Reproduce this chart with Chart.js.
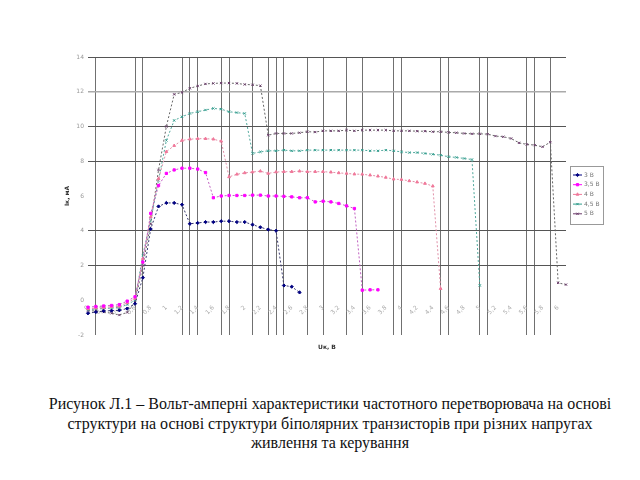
<!DOCTYPE html>
<html lang="uk">
<head>
  <meta charset="UTF-8" />
  <title>Рисунок Л.1</title>
  <script src="https://cdn.jsdelivr.net/npm/chart.js"></script>
  <style>
    body {
      margin: 0;
      background: #ffffff;
      width: 640px;
      height: 480px;
      overflow: hidden;
    }
    .wrap {
      position: relative;
      width: 640px;
      height: 370px;
    }
    .caption {
      margin-top: 24px;
      padding-left: 20px;
      font-family: 'Liberation Serif', 'Times New Roman', serif;
      font-size: 16px;
      line-height: 19.5px;
      text-align: center;
      color: #111;
    }
  </style>
</head>
<body>
  <div class="wrap">
    <canvas id="grafik" width="640" height="370"></canvas>
  </div>
  <div class="caption">
    Рисунок Л.1 – Вольт-амперні характеристики частотного перетворювача на основі<br>
    структури на основі структури біполярних транзисторів при різних напругах<br>
    живлення та керування
  </div>

  <script>
    // Напруга, В (категорії осі X)
    const napruga = [
      '0', '0,1', '0,2', '0,3', '0,4', '0,5', '0,6', '0,7', '0,8', '0,9',
      '1', '1,1', '1,2', '1,3', '1,4', '1,5', '1,6', '1,7', '1,8', '1,9',
      '2', '2,1', '2,2', '2,3', '2,4', '2,5', '2,6', '2,7', '2,8', '2,9',
      '3', '3,1', '3,2', '3,3', '3,4', '3,5', '3,6', '3,7', '3,8', '3,9',
      '4', '4,1', '4,2', '4,3', '4,4', '4,5', '4,6', '4,7', '4,8', '4,9',
      '5', '5,1', '5,2', '5,3', '5,4', '5,5', '5,6', '5,7', '5,8', '5,9',
      '6', '6,1'
    ];

    const yTicks = [-2, 0, 2, 4, 6, 8, 10, 12, 14];

    // Струм, мА
    const i3V = [-0.75, -0.68, -0.62, -0.6, -0.58, -0.48, -0.2, 1.3, 4.1, 5.4,
      5.6, 5.6, 5.5, 4.4, 4.45, 4.5, 4.5, 4.55, 4.55, 4.5,
      4.5, 4.35, 4.2, 4.07, 4.0, 0.85, 0.78, 0.45];

    const i35V = [-0.4, -0.36, -0.33, -0.3, -0.25, -0.05, 0.2, 2.2, 5.0, 6.6,
      7.3, 7.5, 7.6, 7.6, 7.55, 7.35, 5.9, 6.0, 6.03, 6.03,
      6.03, 6.05, 6.05, 6.0, 6.0, 5.98, 5.95, 5.9, 5.9, 5.66,
      5.7, 5.66, 5.57, 5.43, 5.28, 0.58, 0.6, 0.6];

    const i4V = [-0.5, -0.45, -0.42, -0.38, -0.35, -0.15, 0.1, 2.4, 4.8, 7.0,
      8.55, 8.9, 9.2, 9.27, 9.3, 9.3, 9.27, 9.15, 7.1, 7.25,
      7.33, 7.38, 7.43, 7.3, 7.38, 7.4, 7.4, 7.43, 7.4, 7.4,
      7.4, 7.37, 7.33, 7.3, 7.26, 7.25, 7.2, 7.14, 7.07, 6.97,
      6.95, 6.87, 6.8, 6.72, 6.57, 0.67];

    const i45V = [-0.55, -0.5, -0.48, -0.45, -0.42, -0.25, 0.0, 2.6, 4.6, 6.9,
      9.2, 10.35, 10.56, 10.75, 10.85, 10.95, 11.04, 11.0, 10.85, 10.8,
      10.75, 8.45, 8.54, 8.6, 8.6, 8.64, 8.6, 8.6, 8.64, 8.64,
      8.64, 8.64, 8.64, 8.64, 8.64, 8.64, 8.6, 8.6, 8.64, 8.6,
      8.54, 8.5, 8.5, 8.45, 8.4, 8.35, 8.26, 8.22, 8.16, 8.1,
      0.85];

    const i5V = [-0.6, -0.62, -0.68, -0.75, -0.85, -0.7, -0.1, 2.0, 4.4, 7.5,
      10.0, 11.85, 11.96, 12.2, 12.33, 12.45, 12.48, 12.5, 12.5, 12.48,
      12.42, 12.4, 12.35, 9.5, 9.6, 9.6, 9.6, 9.64, 9.7, 9.68,
      9.75, 9.75, 9.75, 9.79, 9.75, 9.79, 9.79, 9.79, 9.79, 9.75,
      9.75, 9.75, 9.73, 9.73, 9.7, 9.7, 9.66, 9.64, 9.6, 9.58,
      9.58, 9.56, 9.45, 9.41, 9.31, 9.06, 8.97, 8.93, 8.83, 9.1,
      1.0, 0.9];

    const seriesNames = ['3 В', '3,5 В', '4 В', '4,5 В', '5 В'];

    // які вертикальні лінії сітки видно на рисунку
    const xGridShown = [1, 6, 7, 12, 13, 14, 17, 18, 21, 23, 24, 25, 28, 30, 33, 35, 39, 40, 45, 46, 50, 51, 56, 57, 59];
    const yGridHidden = [6, 0, -2];

    function seria(label, data, color, lineColor, style) {
      return {
        label: label,
        data: data,
        borderColor: lineColor,
        backgroundColor: color,
        pointBorderColor: color,
        pointBackgroundColor: color,
        pointStyle: style,
        pointRadius: 1.6,
        pointBorderWidth: 1,
        borderWidth: 1,
        borderDash: [2, 2],
        tension: 0,
        fill: false
      };
    }

    const datasets = [
      seria(seriesNames[0], i3V, '#000080', '#3a3a70', 'rectRot'),
      seria(seriesNames[1], i35V, '#ff00ff', '#c060c0', 'rect'),
      seria(seriesNames[2], i4V, '#f0789a', '#e090a8', 'triangle'),
      seria(seriesNames[3], i45V, '#2f9c8c', '#50a89c', 'crossRot'),
      seria(seriesNames[4], i5V, '#6a3a6a', '#666666', 'crossRot')
    ];

    // підписи осей і легенда в рамці, як в Excel
    const extras = {
      id: 'extras',
      afterDraw(chart) {
        const ctx = chart.ctx;
        ctx.save();
        ctx.fillStyle = '#333';
        ctx.font = 'bold 6px "DejaVu Sans"';
        ctx.textAlign = 'center';
        ctx.textBaseline = 'middle';
        ctx.fillText('Uк, В', 327, 347);
        ctx.translate(67, 196);
        ctx.rotate(-Math.PI / 2);
        ctx.fillText('Iк, мА', 0, 0);
        ctx.restore();

        ctx.save();
        ctx.strokeStyle = '#999';
        ctx.lineWidth = 1;
        ctx.strokeRect(570.5, 166.5, 33, 58);
        ctx.font = '6px "DejaVu Sans"';
        ctx.textBaseline = 'middle';
        ctx.textAlign = 'left';
        chart.data.datasets.forEach((ds, k) => {
          const y = 175 + k * 9.7;
          ctx.strokeStyle = ds.pointBorderColor;
          ctx.fillStyle = ds.pointBorderColor;
          ctx.setLineDash([]);
          ctx.beginPath();
          ctx.moveTo(573, y);
          ctx.lineTo(582, y);
          ctx.stroke();
          Chart.helpers.drawPoint(ctx, {
            pointStyle: ds.pointStyle,
            radius: 1.6,
            borderWidth: 1,
            rotation: 0
          }, 577.5, y);
          ctx.fillStyle = '#777';
          ctx.fillText(ds.label, 584, y);
        });
        ctx.restore();
      }
    };

    new Chart(document.getElementById('grafik'), {
      type: 'line',
      data: { labels: napruga, datasets: datasets },
      options: {
        responsive: false,
        animation: false,
        layout: { padding: { left: 60, right: 74, top: 57, bottom: 35 } },
        plugins: {
          legend: { display: false },
          tooltip: { enabled: false }
        },
        scales: {
          x: {
            type: 'category',
            position: { y: 0 },
            offset: false,
            afterFit: (s) => { s.height = 0; },
            border: { display: false },
            grid: {
              drawTicks: false,
              lineWidth: 1,
              color: (c) => xGridShown.includes(c.index) ? '#707070' : 'rgba(0,0,0,0)'
            },
            ticks: {
              autoSkip: false,
              minRotation: 45,
              maxRotation: 45,
              padding: 4,
              color: '#aaa',
              font: { size: 6, family: 'DejaVu Sans' },
              callback: (v, i) => i % 2 === 0 ? napruga[i] : ''
            }
          },
          y: {
            min: yTicks[0],
            max: yTicks[yTicks.length - 1],
            afterFit: (s) => { s.width = 28; },
            border: { display: false },
            grid: {
              drawTicks: false,
              lineWidth: (c) => c.tick && c.tick.value === 12 ? 1.5 : 1,
              color: (c) => {
                if (!c.tick || yGridHidden.includes(c.tick.value)) return 'rgba(0,0,0,0)';
                return c.tick.value === 12 ? '#aaaaaa' : '#555555';
              }
            },
            ticks: {
              stepSize: 2,
              padding: 4,
              color: '#999',
              font: { size: 6, family: 'DejaVu Sans' }
            }
          }
        }
      },
      plugins: [extras]
    });
  </script>
</body>
</html>
